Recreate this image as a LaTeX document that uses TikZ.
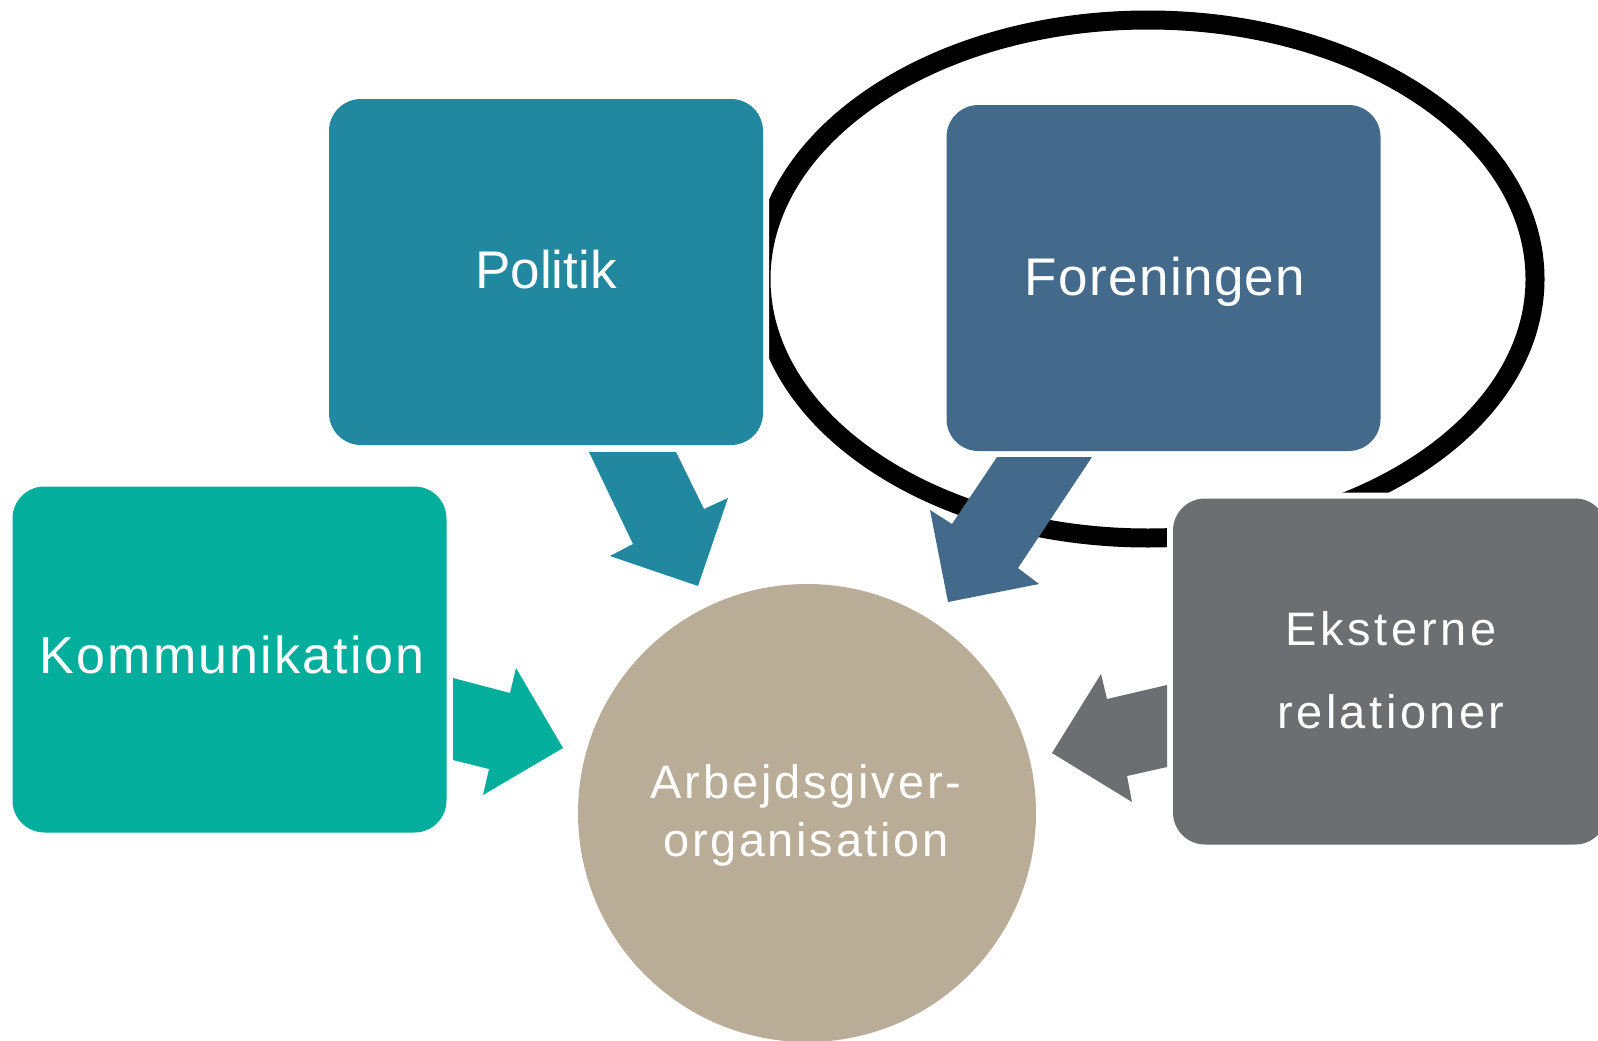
\documentclass[tikz,border=0pt]{standalone}
\usepackage{fontspec}
\setmainfont{Liberation Sans}
\definecolor{cpol}{HTML}{21889F}
\definecolor{cfor}{HTML}{436A8B}
\definecolor{ckom}{HTML}{03AE9C}
\definecolor{cext}{HTML}{6D6E72}
\definecolor{ccirc}{HTML}{B9AD97}
\begin{document}
\begin{tikzpicture}[x=1pt,y=-1pt,
  box/.style={rounded corners=32pt, minimum width=434pt, minimum height=346pt,
    inner sep=0pt, preaction={draw=white, line width=12pt}},
  lbl/.style={text=white, anchor=base, inner sep=0pt},
  big/.style={font=\fontsize{53}{60}\selectfont}]
\useasboundingbox (0,0) rectangle (1598,1041);
\clip (0,0) rectangle (1598,1041);
\fill[white] (0,0) rectangle (1598,1041);
% loop ellipse
\draw[line width=19pt, black] (1148,279) ellipse [x radius=387, y radius=259];
% boxes
\node[box, fill=cpol] (politik) at (546,272) {};
\node[box, fill=cfor] (foren) at (1163.5,278) {};
\node[box, fill=ckom] (kommu) at (229.5,659.5) {};
\node[box, fill=cext] (ekst) at (1390,671.5) {};
\node[circle, fill=ccirc, minimum size=458pt, inner sep=0pt] (org) at (807,813) {};
% block arrows
\fill[cpol] (589,452) -- (676,452) -- (704,509) -- (728,498) -- (698,586) -- (610,556) -- (633,544) -- cycle;
\fill[cfor] (997,457) -- (1092,457) -- (1018,568) -- (1039,584) -- (948,602) -- (930,510) -- (952,524) -- cycle;
\fill[ckom] (453,678) -- (510,693) -- (516,668) -- (563,748) -- (483,795) -- (489,769) -- (453,760) -- cycle;
\fill[cext] (1167,685) -- (1107,699) -- (1101,674) -- (1052,753) -- (1132,802) -- (1127,776) -- (1167,767) -- cycle;
% labels
\node[lbl, big] (tpol) at (546,288) {Politik};
\node[lbl, font={\fontsize{53}{60}\selectfont\addfontfeatures{LetterSpace=2.6}}] (tfor) at (1165,295) {Foreningen};
\node[lbl, font={\fontsize{52}{60}\selectfont\addfontfeatures{LetterSpace=4.2}}] (tkom) at (232,673) {Kommunikation};
\node[lbl, font={\fontsize{47}{58}\selectfont\addfontfeatures{LetterSpace=8}}] (text1) at (1391,645) {Eksterne};
\node[lbl, font={\fontsize{47}{58}\selectfont\addfontfeatures{LetterSpace=7.4}}] (text2) at (1391,728) {relationer};
\node[lbl, font={\fontsize{47}{58}\selectfont\addfontfeatures{LetterSpace=6}}] (torg1) at (806,798) {Arbejdsgiver-};
\node[lbl, font={\fontsize{47}{58}\selectfont\addfontfeatures{LetterSpace=5.7}}] (torg2) at (806,856) {organisation};
\end{tikzpicture}
\end{document}
